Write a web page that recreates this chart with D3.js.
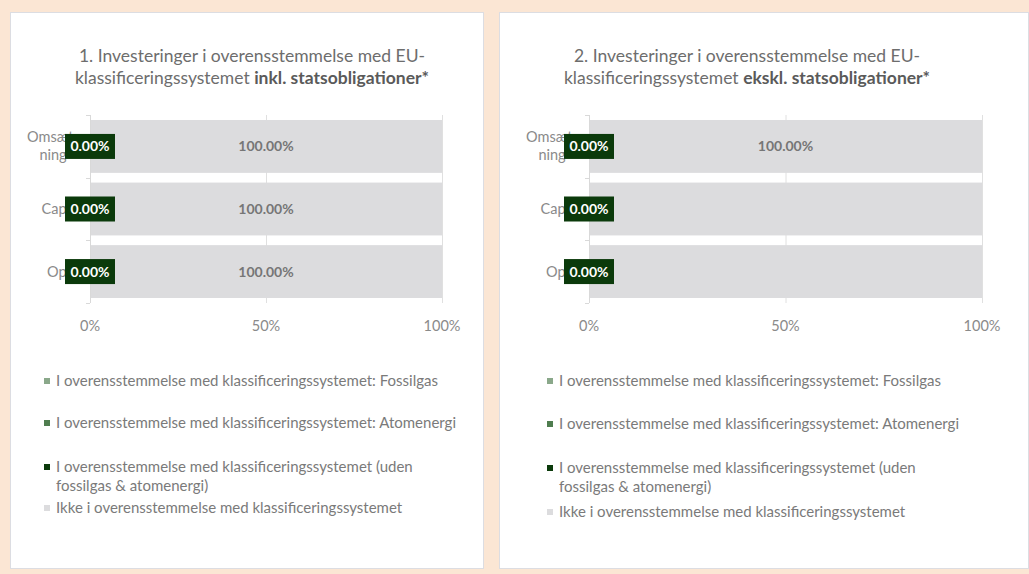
<!DOCTYPE html>
<html>
<head>
<meta charset="utf-8">
<script src="https://cdn.jsdelivr.net/npm/d3@7"></script>
<style>
  body { margin: 0; background: #fbe6d4; }
  svg { display: block; font-family: Lato, "Open Sans", sans-serif; }
</style>
</head>
<body>
<svg id="chart" width="1029" height="574"></svg>
<script>
// categories (top to bottom)
var categories = ["Omsæt-\nning", "CapEx", "OpEx"];

// series keys in stacking order
var seriesKeys = ["fossil", "atom", "uden", "ikke"];
var seriesNames = [
  "I overensstemmelse med klassificeringssystemet: Fossilgas",
  "I overensstemmelse med klassificeringssystemet: Atomenergi",
  "I overensstemmelse med klassificeringssystemet (uden\nfossilgas & atomenergi)",
  "Ikke i overensstemmelse med klassificeringssystemet"
];
var seriesColors = ["#8aa88a", "#4f7d4f", "#0b3a0b", "#dcdcde"];

// values (%) per chart
var fossil1 = [0, 0, 0], atom1 = [0, 0, 0], uden1 = [0, 0, 0], ikke1 = [100, 100, 100];
var fossil2 = [0, 0, 0], atom2 = [0, 0, 0], uden2 = [0, 0, 0], ikke2 = [100, 100, 100];
// which "ikke" labels are shown in each chart
var ikkeShown1 = [true, true, true];
var ikkeShown2 = [true, false, false];

var xTicks = [0, 50, 100];

var titles = [
  ["1. Investeringer i overensstemmelse med EU-", "klassificeringssystemet ", "inkl. statsobligationer*"],
  ["2. Investeringer i overensstemmelse med EU-", "klassificeringssystemet ", "ekskl. statsobligationer*"]
];

var svg = d3.select("#chart");
var fmt = function(v) { return v.toFixed(2) + "%"; };

function drawPanel(opt) {
  var g = svg.append("g");

  // white card
  g.append("rect")
    .attr("x", opt.px + 0.5).attr("y", 12.5)
    .attr("width", opt.pw).attr("height", 556)
    .style("fill", "#fff").style("stroke", "#dcdde2");

  // title
  var t = g.append("text")
    .attr("text-anchor", "middle")
    .style("fill", "#6d6d6d")
    .style("font-size", "17.5px");
  t.append("tspan").attr("x", opt.tx).attr("y", 62).text(opt.title[0]);
  var l2 = t.append("tspan").attr("x", opt.tx).attr("y", 84);
  l2.append("tspan").text(opt.title[1]);
  l2.append("tspan").style("font-weight", "bold").style("fill", "#5a5a5a").text(opt.title[2]);

  var x = d3.scaleLinear().domain([0, 100]).range([opt.x0, opt.x1]);
  var y = d3.scaleBand().domain(categories).range([115, 303])
    .paddingInner(0.155).paddingOuter(0.08);

  // gridlines
  g.selectAll(".grid")
    .data(xTicks.slice(1))
    .enter().append("line")
    .attr("x1", function(d) { return x(d) + 0.5; })
    .attr("x2", function(d) { return x(d) + 0.5; })
    .attr("y1", 115).attr("y2", 303)
    .style("stroke", "#e0e0e0");

  // stacked bars
  var rows = categories.map(function(c, i) {
    return { cat: c, fossil: opt.fossil[i], atom: opt.atom[i], uden: opt.uden[i], ikke: opt.ikke[i], idx: i };
  });
  var stacked = d3.stack().keys(seriesKeys)(rows);

  stacked.forEach(function(layer, k) {
    g.selectAll(".bar" + k)
      .data(layer)
      .enter().append("rect")
      .attr("x", function(d) { return x(d[0]) + 1; })
      .attr("y", function(d) { return y(d.data.cat); })
      .attr("width", function(d) { return Math.max(0, x(d[1]) - x(d[0]) - 1); })
      .attr("height", y.bandwidth())
      .style("fill", seriesColors[k]);
  });

  // y axis line + ticks between categories
  g.append("line")
    .attr("x1", opt.x0 + 0.5).attr("x2", opt.x0 + 0.5)
    .attr("y1", 115).attr("y2", 303)
    .style("stroke", "#d9d9d9");
  var bounds = d3.range(categories.length + 1).map(function(i) { return 115 + i * (303 - 115) / categories.length; });
  g.selectAll(".ytick")
    .data(bounds)
    .enter().append("line")
    .attr("x1", opt.x0 - 4).attr("x2", opt.x0)
    .attr("y1", function(d) { return Math.round(d) + 0.5; })
    .attr("y2", function(d) { return Math.round(d) + 0.5; })
    .style("stroke", "#d9d9d9");

  // category labels
  categories.forEach(function(c) {
    var lines = c.split("\n");
    var cy = y(c) + y.bandwidth() / 2;
    var txt = g.append("text")
      .style("fill", "#8a8a8a").style("font-size", "14.5px");
    if (lines.length == 1) {
      txt.attr("text-anchor", "end").attr("x", opt.x0 - 8).attr("y", cy + 5).text(c);
    } else {
      txt.attr("text-anchor", "middle");
      lines.forEach(function(s, j) {
        txt.append("tspan").attr("x", opt.x0 - 37)
          .attr("y", cy + 5 + (j - (lines.length - 1) / 2) * 18).text(s);
      });
    }
  });

  // x axis tick labels
  g.selectAll(".xlab")
    .data(xTicks)
    .enter().append("text")
    .attr("x", function(d) { return x(d); })
    .attr("y", 331)
    .attr("text-anchor", "middle")
    .style("fill", "#8a8a8a").style("font-size", "14.5px")
    .text(function(d) { return d + "%"; });

  // data labels: "ikke" series (gray bold text)
  var ikkeLayer = stacked[3];
  g.selectAll(".ikkeLab")
    .data(ikkeLayer.filter(function(d) { return opt.ikkeShown[d.data.idx]; }))
    .enter().append("text")
    .attr("x", function(d) { return x((d[0] + d[1]) / 2); })
    .attr("y", function(d) { return y(d.data.cat) + y.bandwidth() / 2 + 5; })
    .attr("text-anchor", "middle")
    .style("fill", "#767676").style("font-size", "14px").style("font-weight", "bold")
    .text(function(d) { return fmt(d[1] - d[0]); });

  // data labels: "uden" series (dark green boxes)
  var udenLayer = stacked[2];
  var boxes = g.selectAll(".udenLab")
    .data(udenLayer)
    .enter().append("g")
    .attr("transform", function(d) {
      return "translate(" + x((d[0] + d[1]) / 2) + "," + (y(d.data.cat) + y.bandwidth() / 2) + ")";
    });
  boxes.append("rect")
    .attr("x", -25).attr("y", -12.5).attr("width", 50).attr("height", 25)
    .style("fill", seriesColors[2]);
  boxes.append("text")
    .attr("text-anchor", "middle").attr("y", 5)
    .style("fill", "#fff").style("font-size", "14px").style("font-weight", "bold")
    .text(function(d) { return fmt(d[1] - d[0]); });

  // legend
  var legendY = opt.legendY;
  seriesNames.forEach(function(name, k) {
    var lines = name.split("\n");
    g.append("rect")
      .attr("x", opt.lx).attr("y", legendY[k] - 3)
      .attr("width", 6).attr("height", 6)
      .style("fill", seriesColors[k]);
    var txt = g.append("text").style("fill", "#7a7a7a").style("font-size", "15px");
    lines.forEach(function(s, j) {
      txt.append("tspan").attr("x", opt.lx + 12).attr("y", legendY[k] + 5 + j * 19).text(s);
    });
  });
}

drawPanel({
  px: 10, pw: 473, tx: 252, x0: 90, x1: 442,
  title: titles[0],
  fossil: fossil1, atom: atom1, uden: uden1, ikke: ikke1, ikkeShown: ikkeShown1,
  lx: 44, legendY: [381, 423, 467, 508]
});
drawPanel({
  px: 499, pw: 529, tx: 747, x0: 589, x1: 982,
  title: titles[1],
  fossil: fossil2, atom: atom2, uden: uden2, ikke: ikke2, ikkeShown: ikkeShown2,
  lx: 547, legendY: [381, 424, 468, 512]
});
</script>
</body>
</html>
